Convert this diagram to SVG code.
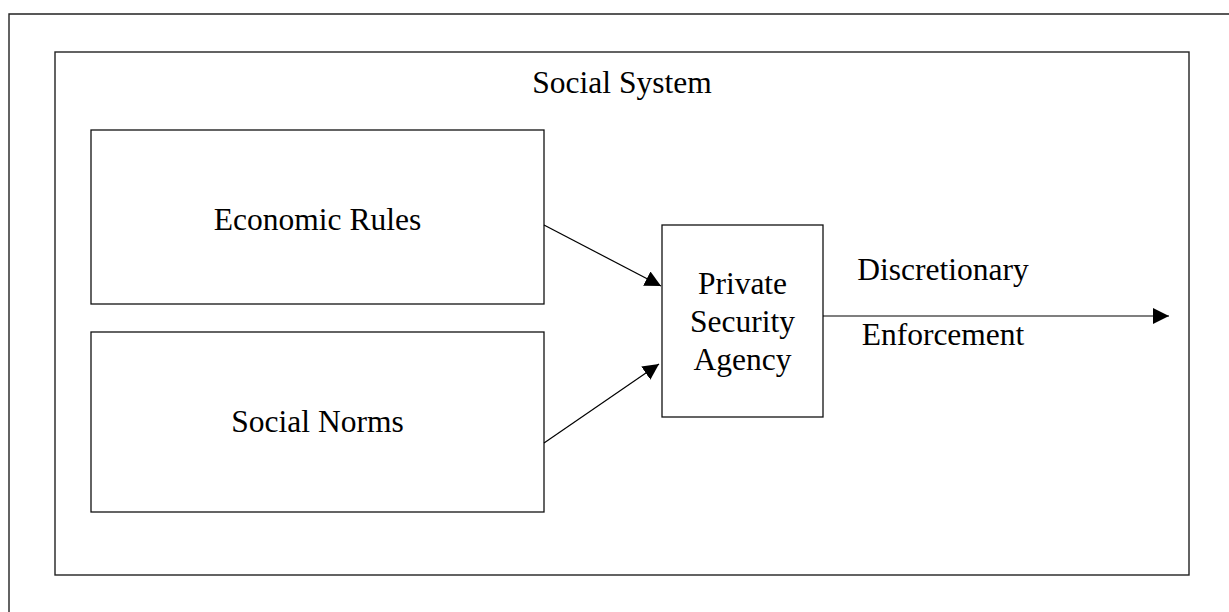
<svg xmlns="http://www.w3.org/2000/svg" width="1229" height="612" viewBox="0 0 1229 612">
<style>
.frame{fill:none;stroke:#222;stroke-width:1.4}
.box{fill:#fff;stroke:#111;stroke-width:1.3}
.lbl{font-family:"Liberation Serif",serif;font-size:31.5px;fill:#000;text-anchor:middle}
.conn{stroke:#000;stroke-width:1.2;fill:none}
</style>
<defs>
<marker id="ah" viewBox="0 0 16 16" refX="16" refY="8" markerWidth="16" markerHeight="16" markerUnits="userSpaceOnUse" orient="auto">
<path d="M0,0 L16,8 L0,16 Z" fill="#000"/>
</marker>
</defs>
<rect width="1229" height="612" fill="#fff"/>
<g id="outer-frame">
<polyline class="frame" points="9,612 9,14 1229,14"/>
</g>
<g id="social-system">
<rect class="frame" x="55" y="52" width="1134" height="523"/>
<text class="lbl" x="622" y="93">Social System</text>
</g>
<g id="economic-rules">
<rect class="box" x="91" y="130" width="453" height="174"/>
<text class="lbl" x="317.5" y="230">Economic Rules</text>
</g>
<g id="social-norms">
<rect class="box" x="91" y="332" width="453" height="180"/>
<text class="lbl" x="317.5" y="432">Social Norms</text>
</g>
<g id="private-security-agency">
<rect class="box" x="662" y="225" width="161" height="192"/>
<text class="lbl" x="742.5" y="294">Private</text>
<text class="lbl" x="742.5" y="332">Security</text>
<text class="lbl" x="742.5" y="370">Agency</text>
</g>
<g id="output-label">
<text class="lbl" x="943" y="280">Discretionary</text>
<text class="lbl" x="943" y="345">Enforcement</text>
</g>
<g id="connectors">
<line class="conn" x1="544" y1="225" x2="661" y2="286" marker-end="url(#ah)"/>
<line class="conn" x1="544" y1="443" x2="659" y2="364" marker-end="url(#ah)"/>
<line class="conn" x1="823" y1="316" x2="1169" y2="316" marker-end="url(#ah)"/>
</g>
</svg>
